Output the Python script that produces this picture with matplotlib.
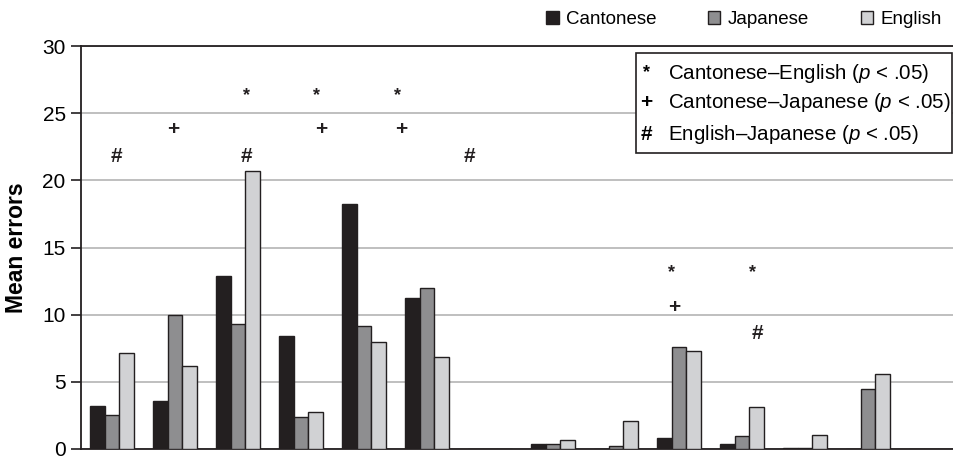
import numpy as np
import matplotlib
matplotlib.use("Agg")
import matplotlib.pyplot as plt
from matplotlib.patches import Patch, Rectangle

plt.rcParams['font.family'] = ['Liberation Sans', 'DejaVu Sans']
plt.rcParams['mathtext.fontset'] = 'custom'
plt.rcParams['mathtext.it'] = 'Liberation Sans:italic'
plt.rcParams['mathtext.rm'] = 'Liberation Sans'

# mean errors per group (14 groups, two of them empty)
cantonese = [3.17, 3.56, 12.9, 8.39, 18.24, 11.24, 0, 0.40, 0.0, 0.79, 0.40, 0.10, 0.0, 0]
japanese = [2.55, 10.0, 9.33, 2.35, 9.16, 12.0, 0, 0.38, 0.20, 7.60, 0.99, 0.10, 4.50, 0]
english = [7.18, 6.20, 20.66, 2.75, 7.97, 6.88, 0, 0.69, 2.05, 7.28, 3.14, 1.06, 5.59, 0]

series_names = ["Cantonese", "Japanese", "English"]
series_colors = ["#231f20", "#8e8e90", "#d1d2d4"]

# significance marks: (group position, height, symbol)
marks = [
    (0.08, 21.75, "#"),
    (0.98, 23.76, "+"),
    (2.14, 26.3, "*"), (2.14, 21.75, "#"),
    (3.24, 26.3, "*"), (3.32, 23.76, "+"),
    (4.54, 26.3, "*"), (4.60, 23.76, "+"),
    (5.68, 21.75, "#"),
    (8.89, 13.1, "*"), (8.92, 10.57, "+"),
    (10.16, 13.1, "*"), (10.24, 8.6, "#"),
]

key_symbols = ["*", "+", "#"]
key_labels = ["Cantonese\u2013English ($p$ < .05)",
              "Cantonese\u2013Japanese ($p$ < .05)",
              "English\u2013Japanese ($p$ < .05)"]


def main():
    fig = plt.figure(figsize=(9.54, 4.57), dpi=100)
    ax = fig.add_axes([81 / 954, 8 / 457, 872 / 954, 403 / 457])

    x = np.arange(len(cantonese))
    w = 0.23
    for k, (vals, col) in enumerate(zip([cantonese, japanese, english], series_colors)):
        ax.bar(x + (k - 1) * w, vals, width=w, color=col, edgecolor="#231f20",
               linewidth=1.0, zorder=3)

    for xm, ym, s in marks:
        fs = 13 if s == "*" else 15
        ax.text(xm, ym, s, ha="center", va="center", fontsize=fs,
                fontweight="bold", color="#231f20", zorder=4)

    ax.set_xlim(-0.49, 13.35)
    ax.set_ylim(0, 30)
    ax.set_yticks([0, 5, 10, 15, 20, 25, 30])
    ax.set_xticks([])
    ax.tick_params(axis="y", labelsize=15, length=7, width=1.2, color="#231f20", pad=4)
    ax.yaxis.grid(True, color="#b4b4b4", linewidth=1.2, zorder=0)
    ax.set_axisbelow(True)
    for side in ["left", "bottom", "top"]:
        ax.spines[side].set_linewidth(1.3)
        ax.spines[side].set_color("#231f20")
    ax.spines["right"].set_visible(False)
    ax.set_ylabel("Mean errors", fontsize=16.5, fontweight="bold", labelpad=10)

    # significance key box
    ax.add_patch(Rectangle((0.6365, 0.735), 0.3625, 0.248, transform=ax.transAxes,
                           facecolor="white", edgecolor="#231f20", linewidth=1.2,
                           zorder=5, clip_on=False))
    rows = [0.933, 0.859, 0.780]
    for yy, s, lab in zip(rows, key_symbols, key_labels):
        fs = 13 if s == "*" else 15
        ax.text(0.648, yy, s, transform=ax.transAxes, ha="center", va="center",
                fontsize=fs, fontweight="bold", zorder=6)
        ax.text(0.673, yy, lab, transform=ax.transAxes, ha="left", va="center",
                fontsize=14.8, zorder=6)

    handles = [Patch(facecolor=c, edgecolor="#231f20", linewidth=1.0) for c in series_colors]
    fig.legend(handles, series_names, loc="upper right", bbox_to_anchor=(953 / 954, 1.0),
               ncol=3, frameon=False, fontsize=13.5, handlelength=0.65, handleheight=0.65,
               handletextpad=0.4, columnspacing=2.75, borderaxespad=0.2)

    fig.savefig("out.png", dpi=100)


if __name__ == '__main__':
    main()
